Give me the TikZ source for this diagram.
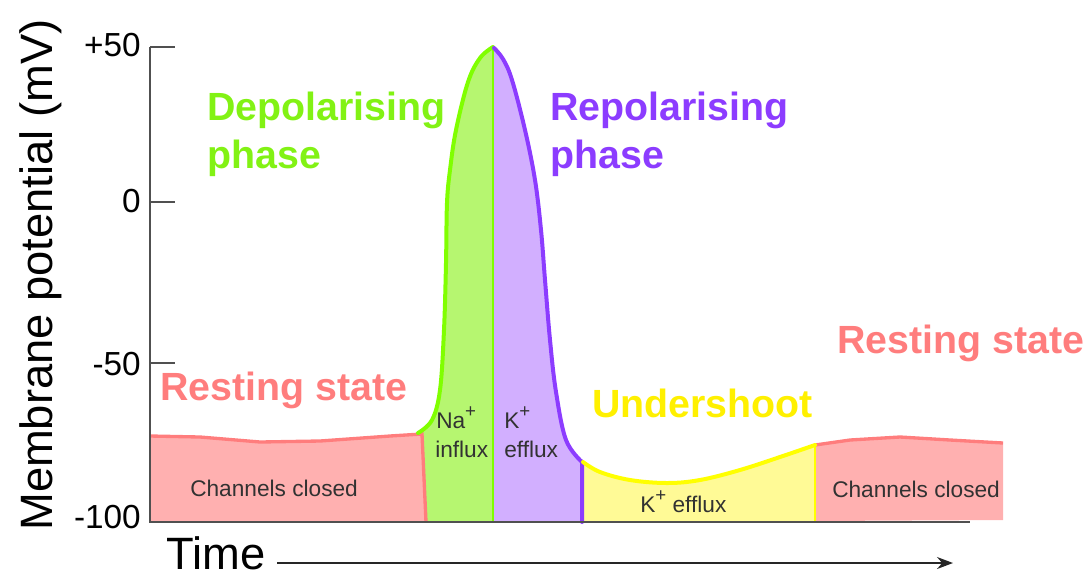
\documentclass[tikz,border=0pt]{standalone}
\usepackage{fontspec}
\setmainfont{Liberation Sans}
\usetikzlibrary{arrows.meta}
\definecolor{gline}{RGB}{128,255,0}
\definecolor{gfill}{RGB}{182,246,112}
\definecolor{gtext}{RGB}{130,242,20}
\definecolor{pline}{RGB}{140,60,255}
\definecolor{pfill}{RGB}{210,175,255}
\definecolor{yline}{RGB}{255,255,0}
\definecolor{yfill}{RGB}{255,250,150}
\definecolor{ytext}{RGB}{255,240,0}
\definecolor{rline}{RGB}{255,125,125}
\definecolor{rfill}{RGB}{255,176,176}
\definecolor{axis}{RGB}{80,80,80}
\definecolor{small}{RGB}{50,50,50}
\newcommand{\supplus}{\raisebox{0.45em}{\fontsize{14}{14}\selectfont +}}
\tikzset{
  big/.style={font=\fontsize{29.5}{36}\selectfont\bfseries, inner sep=0pt, anchor=base west},
  smalllab/.style={font=\fontsize{17}{20}\selectfont, text=small, inner sep=0pt, anchor=base west},
  ticklab/.style={font=\fontsize{25}{30}\selectfont, inner sep=0pt, anchor=east},
  axlab/.style={font=\fontsize{34}{40}\selectfont, inner sep=0pt},
  curve/.style={line width=3pt, line join=round, line cap=round},
}
\begin{document}
\begin{tikzpicture}[x=0.75pt,y=-0.75pt]
\useasboundingbox (0,0) rectangle (1087,576);
% fills
\fill[gfill] (418,522) -- plot[smooth,tension=0.6] coordinates {(418,433) (432,420) (440,390) (444,330) (446,263) (447,203) (450,170) (456,130) (468,82) (480,58) (493,47)} -- (493,522) -- cycle;
\fill[pfill] (493,522) -- plot[smooth,tension=0.6] coordinates {(493,47) (503,59) (512,80) (525,130) (535,180) (541,230) (545,280) (550,340) (556,392) (566,440) (582,462)} -- (582,522) -- cycle;
\fill[yfill] (582,522) -- plot[smooth,tension=0.6] coordinates {(582,462) (600,472) (630,480) (667,483) (700,480) (740,470) (780,457) (815,445)} -- (815,522) -- cycle;
\fill[rfill] (150,522) -- (150,436) -- (200,437) -- (260,442) -- (320,441) -- (390,436) -- (422,434) -- (426,522) -- cycle;
\fill[rfill] (815,521) -- (815,445) -- (850,440) -- (900,437) -- (950,440) -- (1003,443) -- (1003,520) -- cycle;
% coloured outlines
\draw[rline, line width=2.5pt] (150,436) -- (200,437) -- (260,442) -- (320,441) -- (390,436) -- (422,434) -- (426,522);
\draw[rline, line width=2.5pt] (815,445) -- (850,440) -- (900,437) -- (950,440) -- (1003,443);
\draw[gline, curve] plot[smooth,tension=0.6] coordinates {(418,433) (432,420) (440,390) (444,330) (446,263) (447,203) (450,170) (456,130) (468,82) (480,58) (493,47)};
\draw[gline, line width=2.2pt] (493,47) -- (493,522);
\draw[pline, curve] plot[smooth,tension=0.6] coordinates {(494,48) (503,59) (512,80) (525,130) (535,180) (541,230) (545,280) (550,340) (556,392) (566,440) (582,462)} -- (582,522);
\draw[yline, curve] plot[smooth,tension=0.6] coordinates {(583,462) (600,472) (630,480) (667,483) (700,480) (740,470) (780,457) (815,445)};
\draw[yline, line width=2.2pt] (815,446) -- (815,522);
% axes
\draw[axis, line width=1.5pt] (150,47) -- (150,522) -- (970,522);
\foreach \yy in {47,202,363} \draw[axis, line width=1.5pt] (150,\yy) -- (175,\yy);
\node[ticklab] (t50) at (141,45) {+50};
\node[ticklab] (t0) at (141,201) {0};
\node[ticklab] (tm50) at (141,364) {-50};
\node[ticklab] (tm100) at (141,517) {-100};
\node[axlab, rotate=90, anchor=base] (ylab) at (52,275) {Membrane potential (mV)};
\node[axlab, anchor=base west, text depth=0pt] (xlab) at (166,569) {Time};
\coordinate (arrS) at (277,563);
\coordinate (arrE) at (953,563);
\draw[black!85, line width=1.2pt, -{Stealth[length=12pt,width=9pt]}] (arrS) -- (arrE);
% phase labels
\node[big, text=gtext] (dep1) at (207,120) {Depolarising};
\node[big, text=gtext] (dep2) at (207,168) {phase};
\node[big, text=pline] (rep1) at (550,120) {Repolarising};
\node[big, text=pline] (rep2) at (550,168) {phase};
\node[big, text=rline] (rest1) at (160,400) {Resting state};
\node[big, text=rline] (rest2) at (837,353) {Resting state};
\node[big, text=ytext] (under) at (592,417) {Undershoot};
% small labels
\node[smalllab] (cc1) at (190,496) {Channels closed};
\node[smalllab] (cc2) at (832,497) {Channels closed};
\node[smalllab] (na) at (436,428) {Na\supplus};
\node[smalllab] (inf) at (435,457) {influx};
\node[smalllab] (k1) at (504,428) {K\supplus};
\node[smalllab] (ef1) at (504,457) {efflux};
\node[smalllab] (k2) at (640,512) {K\supplus{} efflux};
\end{tikzpicture}
\end{document}
